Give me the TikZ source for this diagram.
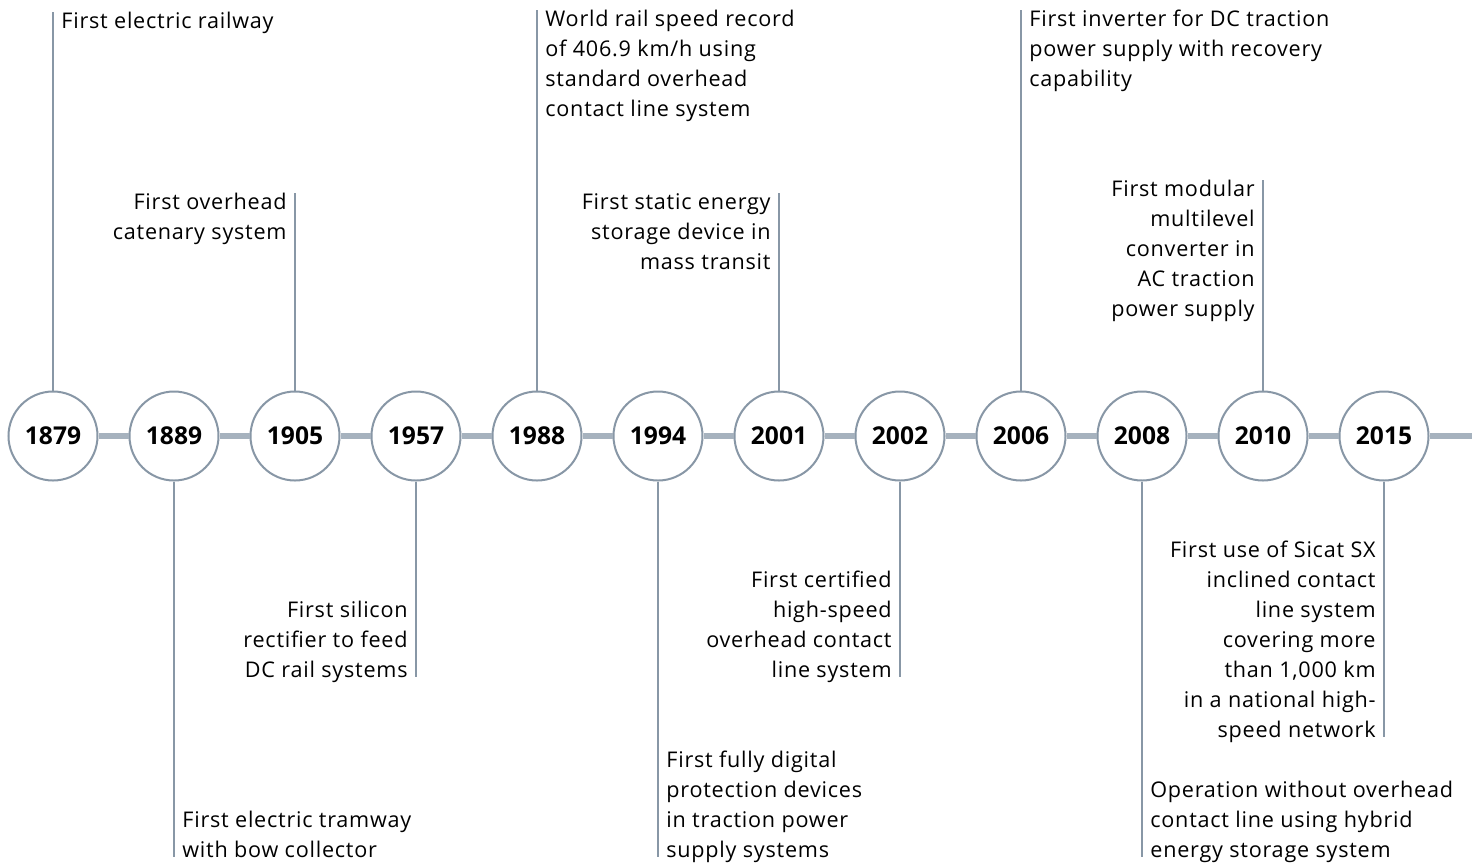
\documentclass[tikz,border=0pt]{standalone}
\usepackage{fontspec}
\setmainfont[LetterSpace=3.5]{Open Sans}
\newfontfamily\yearfont{Open Sans}
\usetikzlibrary{positioning}
\definecolor{RailGrey}{RGB}{136,151,166}
\definecolor{BarGrey}{RGB}{166,178,190}
\tikzset{
  year/.style={circle,draw=RailGrey,line width=1pt,fill=white,
    minimum size=44.5pt,inner sep=0pt,font=\yearfont\fontsize{12.3}{15}\selectfont\bfseries},
  bar/.style={draw=BarGrey,line width=3pt},
  stem/.style={draw=RailGrey,line width=1pt},
  event/.style={inner sep=0pt,font=\fontsize{10.8}{15}\selectfont},
  eventl/.style={event,align=left},
  eventr/.style={event,align=right}
}
\begin{document}
\begin{tikzpicture}[x=0.5pt,y=-0.5pt,node distance=60.5pt,on grid]
  \useasboundingbox (0,0) rectangle (1472,864);
  % year circles along the track
  \node[year] (y1879) at (53,436) {1879};
  \node[year,right=of y1879] (y1889) {1889};
  \node[year,right=of y1889] (y1905) {1905};
  \node[year,right=of y1905] (y1957) {1957};
  \node[year,right=of y1957] (y1988) {1988};
  \node[year,right=of y1988] (y1994) {1994};
  \node[year,right=of y1994] (y2001) {2001};
  \node[year,right=of y2001] (y2002) {2002};
  \node[year,right=of y2002] (y2006) {2006};
  \node[year,right=of y2006] (y2008) {2008};
  \node[year,right=of y2008] (y2010) {2010};
  \node[year,right=of y2010] (y2015) {2015};
  \coordinate (tail) at (1472,436);
  \draw[bar] (y1879) -- (y1889) (y1889) -- (y1905) (y1905) -- (y1957)
    (y1957) -- (y1988) (y1988) -- (y1994) (y1994) -- (y2001)
    (y2001) -- (y2002) (y2002) -- (y2006) (y2006) -- (y2008)
    (y2008) -- (y2010) (y2010) -- (y2015) (y2015) -- (tail);
  % milestones above the track
  \node[eventl,anchor=north west] (e1879) at (61,12) {First electric railway};
  \node[eventr,anchor=north east] (e1905) at (287,193) {First overhead\\catenary system};
  \node[eventl,anchor=north west] (e1988) at (545,10) {World rail speed record\\of 406.9 km/h using\\standard overhead\\contact line system};
  \node[eventr,anchor=north east] (e2001) at (771,193) {First static energy\\storage device in\\mass transit};
  \node[eventl,anchor=north west] (e2006) at (1029,10) {First inverter for DC traction\\power supply with recovery\\capability};
  \node[eventr,anchor=north east] (e2010) at (1255,180) {First modular\\multilevel\\converter in\\AC traction\\power supply};
  % milestones below the track
  \node[eventl,anchor=base west] (e1889) at (182,857) {First electric tramway\\with bow collector};
  \node[eventr,anchor=base east] (e1957) at (408,677) {First silicon\\rectifier to feed\\DC rail systems};
  \node[eventl,anchor=base west] (e1994) at (666,857) {First fully digital\\protection devices\\in traction power\\supply systems};
  \node[eventr,anchor=base east] (e2002) at (892,677) {First certified\\high-speed\\overhead contact\\line system};
  \node[eventl,anchor=base west] (e2008) at (1150,857) {Operation without overhead\\contact line using hybrid\\energy storage system};
  \node[eventr,anchor=base east] (e2015) at (1376,737) {First use of Sicat SX\\inclined contact\\line system\\covering more\\than 1,000 km\\in a national high-\\speed network};
  % stems
  \draw[stem] (y1879.north) -- (y1879.north |- e1879.north);
  \draw[stem] (y1905.north) -- (y1905.north |- e1905.north);
  \draw[stem] (y1988.north) -- (y1988.north |- e1988.north);
  \draw[stem] (y2001.north) -- (y2001.north |- e2001.north);
  \draw[stem] (y2006.north) -- (y2006.north |- e2006.north);
  \draw[stem] (y2010.north) -- (y2010.north |- e2010.north);
  \draw[stem] (y1889.south) -- (y1889.south |- e1889.base);
  \draw[stem] (y1957.south) -- (y1957.south |- e1957.base);
  \draw[stem] (y1994.south) -- (y1994.south |- e1994.base);
  \draw[stem] (y2002.south) -- (y2002.south |- e2002.base);
  \draw[stem] (y2008.south) -- (y2008.south |- e2008.base);
  \draw[stem] (y2015.south) -- (y2015.south |- e2015.base);
\end{tikzpicture}
\end{document}
